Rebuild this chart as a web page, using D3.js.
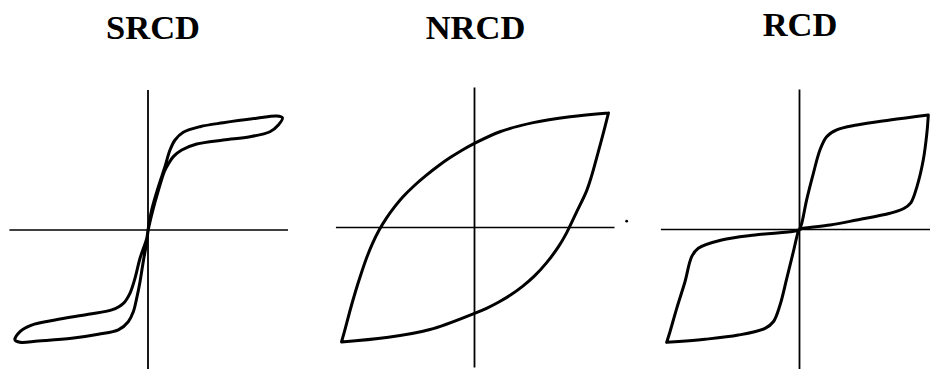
<!DOCTYPE html>
<html>
<head>
<meta charset="utf-8">
<script src="https://cdn.jsdelivr.net/npm/d3@7/dist/d3.min.js"></script>
<style>
  html, body { margin: 0; padding: 0; background: #fff; }
  svg { display: block; }
</style>
</head>
<body>
<svg id="chart" width="930" height="369"></svg>
<script>
// Force–displacement hysteresis loops (normalised units, axes span ±10)
const titles = ["SRCD", "NRCD", "RCD"];

// SRCD: self-centring loop, one closed cycle with rounded tips
const srcdLoop = [
  [9.60, 8.02], [9.19, 8.14], [7.76, 7.98], [5.38, 7.66], [3.71, 7.38], [2.52, 6.98],
  [1.93, 6.43], [1.57, 5.71], [1.21, 4.52], [0.74, 3.09], [0.26, 1.43], [0, 0],
  [-0.09, -0.59], [-0.57, -2.02], [-0.93, -3.45], [-1.29, -4.52], [-1.76, -5.24],
  [-2.59, -5.71], [-4.26, -6.02], [-6.64, -6.43], [-8.31, -6.79], [-9.14, -7.26],
  [-9.50, -7.86], [-9.14, -8.02], [-7.84, -7.93], [-5.45, -7.74], [-3.55, -7.45],
  [-2.12, -7.14], [-1.41, -6.55], [-1.05, -5.84], [-0.81, -4.88], [-0.57, -3.69],
  [-0.34, -2.26], [-0.09, -0.84], [0.02, 0.02], [0.32, 1.32], [0.79, 3.00],
  [1.18, 4.21], [1.45, 4.71], [1.81, 5.24], [2.41, 5.71], [3.48, 6.14], [5.38, 6.43],
  [7.29, 6.66], [8.71, 7.02], [9.31, 7.50]
];

// NRCD: non-recentring, full lens-shaped loop
const nrcdUnloading = [
  [9.57, 8.18], [6.82, 7.91], [4.20, 7.49], [1.82, 6.84], [0.00, 6.01], [-0.86, 5.54],
  [-1.71, 5.01], [-2.57, 4.41], [-3.43, 3.74], [-4.29, 3.00], [-5.14, 2.16],
  [-5.71, 1.47], [-6.29, 0.67], [-6.79, -0.15], [-7.29, -1.15], [-7.71, -2.18],
  [-8.14, -3.43], [-8.50, -4.57], [-8.86, -5.82], [-9.21, -7.14], [-9.50, -8.17]
];
const nrcdReloading = [
  [-9.50, -8.17], [-6.29, -7.86], [-3.18, -7.29], [0.00, -6.13], [0.86, -5.77],
  [1.71, -5.34], [2.57, -4.83], [3.43, -4.21], [4.29, -3.46], [5.14, -2.53],
  [6.00, -1.37], [6.57, -0.40], [7.29, 1.10], [8.00, 2.60], [8.36, 3.67],
  [8.71, 4.92], [9.14, 6.51], [9.57, 8.18]
];

// RCD: recentring loop, pinched at the origin
const rcdUnloading = [
  [9.20, 8.18], [9.10, 6.90], [8.84, 4.96], [8.40, 3.10], [7.95, 1.90], [7.45, 1.50],
  [6.46, 1.16], [4.09, 0.68], [2.18, 0.32], [0.27, 0.09], [0, 0],
  [-0.32, -0.11], [-3.18, -0.39], [-5.56, -0.75], [-7.23, -1.34], [-7.70, -1.94],
  [-8.18, -3.73], [-8.77, -5.63], [-9.25, -7.30], [-9.49, -8.06]
];
const rcdReloading = [
  [-9.49, -8.06], [-6.75, -7.84], [-4.37, -7.54], [-2.46, -7.06], [-1.87, -6.59],
  [-1.39, -5.39], [-0.91, -3.49], [-0.44, -1.59], [-0.09, -0.16], [0, 0],
  [0.16, 0.44], [0.51, 2.11], [0.99, 4.01], [1.46, 5.68], [1.94, 6.63], [2.66, 7.11],
  [4.09, 7.46], [6.46, 7.82], [9.20, 8.18]
];

// stray print speck beside the middle panel
const nrcdSpecks = [[10.87, 0.45]];

const axisExtentX = [-9.9, 10];
const axisExtentY = [-10, 10];

const panels = [
  { title: titles[0], origin: [148, 230], titleDx: 5, titleY: 39,
    closed: [srcdLoop], open: [], specks: [] },
  { title: titles[1], origin: [474.5, 227.5], titleDx: 1, titleY: 39,
    closed: [], open: [nrcdUnloading, nrcdReloading], specks: nrcdSpecks },
  { title: titles[2], origin: [799.5, 229.5], titleDx: 0.5, titleY: 36,
    closed: [], open: [rcdUnloading, rcdReloading], specks: [] }
];

const svg = d3.select("#chart");
const half = 140;

panels.forEach(p => {
  const [ox, oy] = p.origin;
  const x = d3.scaleLinear().domain([-10, 10]).range([ox - half, ox + half]);
  const y = d3.scaleLinear().domain([-10, 10]).range([oy + half, oy - half]);
  const g = svg.append("g");

  // crossing axes
  g.append("line")
    .attr("x1", x(axisExtentX[0])).attr("x2", x(axisExtentX[1]))
    .attr("y1", y(0)).attr("y2", y(0))
    .attr("stroke", "#000").attr("stroke-width", 1.6);
  g.append("line")
    .attr("x1", x(0)).attr("x2", x(0))
    .attr("y1", y(axisExtentY[0])).attr("y2", y(axisExtentY[1]))
    .attr("stroke", "#000").attr("stroke-width", 1.8);

  const lineOpen = d3.line().x(d => x(d[0])).y(d => y(d[1]))
    .curve(d3.curveCatmullRom.alpha(0.5));
  const lineClosed = d3.line().x(d => x(d[0])).y(d => y(d[1]))
    .curve(d3.curveCatmullRomClosed.alpha(0.5));

  p.closed.forEach(pts => {
    g.append("path").attr("d", lineClosed(pts))
      .attr("fill", "none").attr("stroke", "#000")
      .attr("stroke-width", 3).attr("stroke-linejoin", "round");
  });
  if (p.open.length) {
    g.append("path").attr("d", p.open.map(pts => lineOpen(pts)).join(""))
      .attr("fill", "none").attr("stroke", "#000")
      .attr("stroke-width", 3).attr("stroke-linecap", "round")
      .attr("stroke-linejoin", "miter");
  }
  p.specks.forEach(d => {
    g.append("circle").attr("cx", x(d[0])).attr("cy", y(d[1]))
      .attr("r", 1.4).attr("fill", "#000");
  });

  svg.append("text")
    .attr("x", ox + p.titleDx).attr("y", p.titleY)
    .attr("text-anchor", "middle")
    .attr("font-family", "'Liberation Serif', 'Times New Roman', serif")
    .attr("font-weight", "bold")
    .attr("font-size", 34.5)
    .attr("fill", "#000")
    .text(p.title);
});
</script>
</body>
</html>
